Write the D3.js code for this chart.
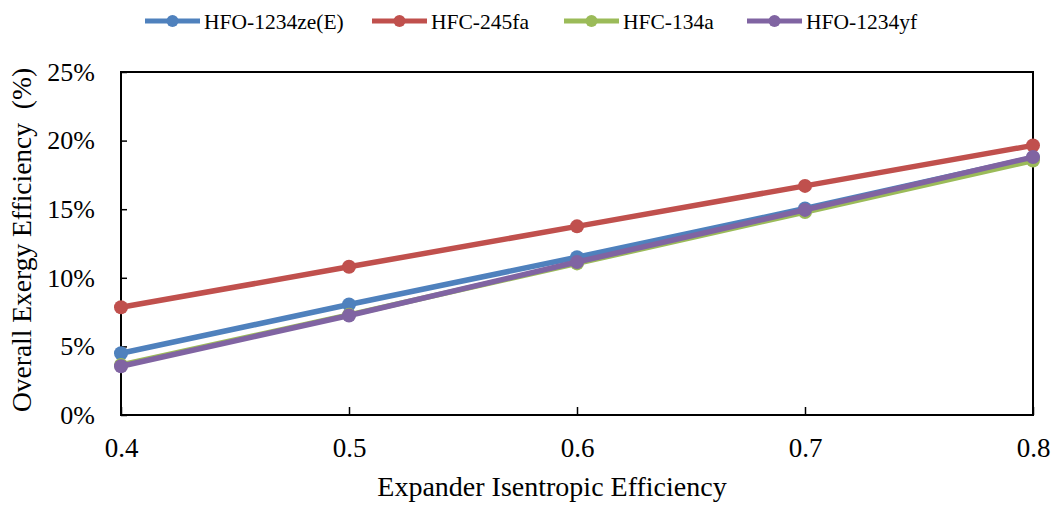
<!DOCTYPE html>
<html>
<head>
<meta charset="utf-8">
<script src="https://cdn.jsdelivr.net/npm/d3@7"></script>
<style>
  body { margin: 0; background: #fff; }
  svg text { font-family: "Liberation Serif", "Times New Roman", serif; fill: #000; }
</style>
</head>
<body>
<div class="canva"></div>
<script>
// datos
const efficiency = [0.4, 0.5, 0.6, 0.7, 0.8];
const seriesNames = ["HFO-1234ze(E)", "HFC-245fa", "HFC-134a", "HFO-1234yf"];
const hfo1234zeE = [4.5, 8.05, 11.5, 15.05, 18.75];
const hfc245fa = [7.85, 10.8, 13.75, 16.7, 19.65];
const hfc134a = [3.65, 7.3, 11.05, 14.8, 18.55];
const hfo1234yf = [3.55, 7.25, 11.15, 14.95, 18.8];
const yTicks = [0, 5, 10, 15, 20, 25];
const xTicks = [0.4, 0.5, 0.6, 0.7, 0.8];
const colors = ["#4f81bd", "#c0504d", "#9bbb59", "#8064a2"];

const allSeries = [hfo1234zeE, hfc245fa, hfc134a, hfo1234yf];

const width = 1056, height = 505;
const margin = { top: 72, right: 23, bottom: 90, left: 121 };

const svg = d3.select(".canva")
  .append("svg")
  .attr("width", width)
  .attr("height", height);

const x = d3.scaleLinear().domain([0.4, 0.8]).range([margin.left, width - margin.right]);
const y = d3.scaleLinear().domain([0, 25]).range([height - margin.bottom, margin.top]);

// ejes (ticks hacia adentro)
const yAxis = svg.append("g")
  .attr("transform", `translate(${margin.left},0)`)
  .call(d3.axisLeft(y).tickValues(yTicks).tickSize(-6).tickPadding(26).tickFormat(d => d + "%"));
const xAxis = svg.append("g")
  .attr("transform", `translate(0,${height - margin.bottom})`)
  .call(d3.axisBottom(x).tickValues(xTicks).tickSize(-8).tickFormat(d3.format(".1f")));

[yAxis, xAxis].forEach(g => {
  g.attr("font-family", null).attr("font-size", null);
  g.select(".domain").remove();
  g.selectAll(".tick line").attr("stroke", "#000").attr("stroke-width", 1.5);
});
yAxis.selectAll(".tick text").style("font-size", "26px");
xAxis.selectAll(".tick text").style("font-size", "27px").attr("dy", null).attr("y", 42);

// marco
svg.append("rect")
  .attr("x", margin.left)
  .attr("y", margin.top)
  .attr("width", width - margin.left - margin.right)
  .attr("height", height - margin.top - margin.bottom)
  .attr("fill", "none")
  .attr("stroke", "#000")
  .attr("stroke-width", 2);

// lineas
const line = d3.line().x((d, i) => x(efficiency[i])).y(d => y(d));
allSeries.forEach((serie, k) => {
  const g = svg.append("g");
  g.append("path")
    .datum(serie)
    .attr("d", line)
    .attr("fill", "none")
    .attr("stroke", colors[k])
    .attr("stroke-width", 5.5);
  g.selectAll("circle")
    .data(serie)
    .enter()
    .append("circle")
    .attr("cx", (d, i) => x(efficiency[i]))
    .attr("cy", d => y(d))
    .attr("r", 7)
    .attr("fill", colors[k]);
});

// leyenda
const legendX = [145, 372, 564, 747];
const legend = svg.selectAll(".legend")
  .data(seriesNames)
  .enter()
  .append("g")
  .attr("transform", (d, i) => `translate(${legendX[i]},21)`);
legend.append("line")
  .attr("x1", 0).attr("x2", 55)
  .attr("stroke", (d, i) => colors[i])
  .attr("stroke-width", 5);
legend.append("circle")
  .attr("cx", 27.5)
  .attr("r", 6)
  .attr("fill", (d, i) => colors[i]);
legend.append("text")
  .attr("x", 59)
  .attr("y", 8)
  .style("font-size", "21.5px")
  .text(d => d);

// titulos
svg.append("text")
  .attr("x", 552)
  .attr("y", 496)
  .attr("text-anchor", "middle")
  .style("font-size", "28px")
  .text("Expander Isentropic Efficiency");
svg.append("text")
  .attr("transform", "translate(31,240) rotate(-90)")
  .attr("text-anchor", "middle")
  .style("font-size", "27.5px")
  .style("white-space", "pre")
  .text("Overall Exergy Efficiency  (%)");
</script>
</body>
</html>
